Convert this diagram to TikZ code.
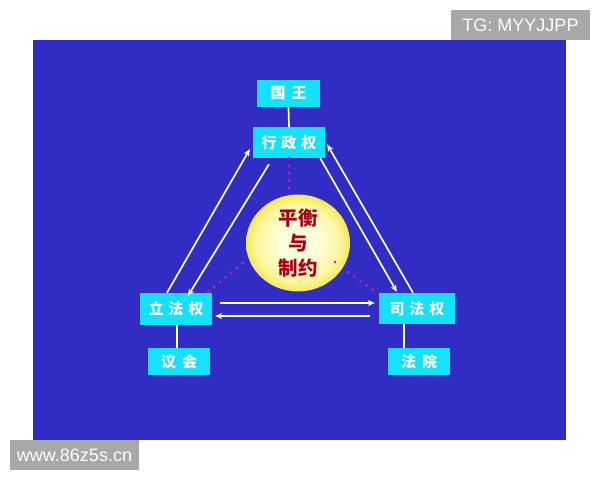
\documentclass[tikz,border=0pt]{standalone}
\usepackage{fontspec}
\setmainfont{Liberation Sans}
\newfontfamily\cjk{Noto Sans CJK SC}
\usetikzlibrary{shapes.geometric,arrows.meta,calc}
\definecolor{bgblue}{RGB}{48,44,196}
\definecolor{boxcyan}{RGB}{20,226,250}
\definecolor{wmgrey}{RGB}{168,168,168}
\definecolor{dotmag}{RGB}{190,30,200}
\definecolor{darkred}{RGB}{165,0,30}
\definecolor{ellin}{RGB}{255,255,222}
\definecolor{ellmid}{RGB}{252,246,160}
\definecolor{ellout}{RGB}{240,224,45}
\pgfdeclareradialshading{ellshade}{\pgfpoint{0bp}{0bp}}{color(0bp)=(ellin); color(9bp)=(ellin); color(20bp)=(ellmid); color(28bp)=(ellout); color(50bp)=(ellout)}
\tikzset{
  pbox/.style={fill=boxcyan, draw=none, inner sep=0pt, text=white,
    font=\cjk\bfseries\fontsize{15}{15}\selectfont},
  warr/.style={draw=white, line width=1.7pt, -{Stealth[length=7pt,width=6pt]}},
  link/.style={draw=white, line width=1.7pt},
  mdot/.style={draw=dotmag, line width=3pt, line cap=round, dash pattern=on 0pt off 7.5pt},
  wm/.style={fill=wmgrey, text=white, inner sep=0pt, font=\fontsize{18}{18}\selectfont}
}
\begin{document}
\begin{tikzpicture}[x=1pt,y=-1pt]
\useasboundingbox (0,0) rectangle (600,480);
\fill[white] (0,0) rectangle (600,480);
\fill[bgblue] (33,40) rectangle (566,440);
% watermarks
\node[wm, minimum width=139pt, minimum height=30pt] (tg) at (520.5,25) {TG: MYYJJPP};
\node[wm, minimum width=129pt, minimum height=30pt] (www) at (74.5,455) {www.86z5s.cn};
% boxes
\node[pbox, minimum width=63pt, minimum height=27pt] (king) at (288.5,93.5) {国\hspace{6pt}王};
\node[pbox, minimum width=72pt, minimum height=31pt] (exec) at (289,142.5) {行\hspace{5pt}政\hspace{5pt}权};
\node[pbox, minimum width=72pt, minimum height=32pt] (leg) at (176,309) {立\hspace{5pt}法\hspace{5pt}权};
\node[pbox, minimum width=62pt, minimum height=27pt] (parl) at (179,361.5) {议\hspace{6pt}会};
\node[pbox, minimum width=76pt, minimum height=31pt] (jud) at (417,308.5) {司\hspace{5pt}法\hspace{5pt}权};
\node[pbox, minimum width=62pt, minimum height=27pt] (court) at (419,361.5) {法\hspace{6pt}院};
% links
\draw[link] (king.south) -- (exec.north);
\draw[link] ($(leg.south)+(1,0)$) -- ($(parl.north)+(-2,0)$);
\draw[link] ($(jud.south)+(-13,0)$) -- ($(court.north)+(-15,0)$);
% dotted
\draw[mdot] (exec.south) -- ++(0,44);
\draw[mdot] ($(leg.north east)+(-4,-1)$) -- (248,259);
\draw[mdot] ($(jud.north west)+(-6,-3)$) -- (345,270);
% ellipse
\node[ellipse, minimum width=104pt, minimum height=84pt, inner sep=0pt,
  shading=ellshade,
  align=center, text=darkred, font=\cjk\bfseries\fontsize{19.5}{25}\selectfont] (ell) at (298,243) {平衡\\与\\制约};
\fill[dotmag] (335,262) circle (1.5pt);
% arrows
\draw[warr] ($(leg.north)+(-9,0)$) -- ($(exec.south west)+(-3,-9)$);
\draw[warr] ($(exec.south)+(-20,6)$) -- ($(leg.north)+(12,3)$);
\draw[warr] ($(exec.south east)+(-5,0)$) -- ($(jud.north west)+(18,-1)$);
\draw[warr] ($(jud.north)+(-4,0)$) -- ($(exec.east)+(2,2)$);
\draw[warr] ($(leg.east)+(8,-6)$) -- ($(jud.west)+(-4,-5.5)$);
\draw[warr] ($(jud.west)+(-9,7.5)$) -- ($(leg.east)+(3,7)$);
\end{tikzpicture}
\end{document}
